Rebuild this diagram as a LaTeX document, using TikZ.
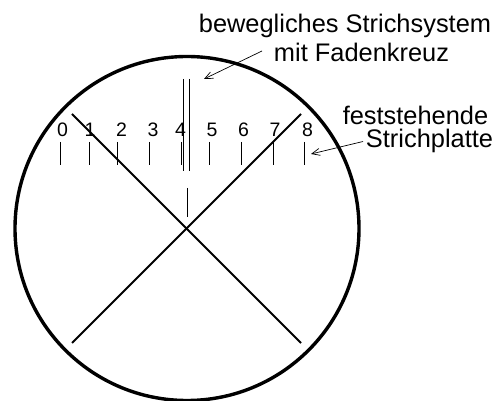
\documentclass[tikz,border=0pt]{standalone}
\usepackage{fontspec}
\setmainfont{Liberation Sans}
\usetikzlibrary{arrows.meta}
\tikzset{
 x=1pt,y=-1pt,
 rim/.style={line width=3.4pt,draw=black},
 cross/.style={line width=2pt,draw=black},
 tick/.style={line width=1pt,draw=black},
 lead/.style={line width=0.7pt,draw=black,-{Straight Barb[length=8pt,width=7pt]}},
 lab/.style={inner sep=0pt,anchor=base,font=\fontsize{25.4}{25}\selectfont,text=black},
 num/.style={inner sep=0pt,anchor=base,font=\fontsize{19.5}{19.5}\selectfont,text=black},
}
\begin{document}
\begin{tikzpicture}
\useasboundingbox (0,0) rectangle (496,401);
\fill[white] (0,0) rectangle (496,401);
\coordinate (c) at (187,228.5);
\draw[rim] (c) circle (172);
\coordinate (a1) at (72,114); \coordinate (a2) at (301,343);
\coordinate (b1) at (301,114); \coordinate (b2) at (72,343);
\draw[cross] (a1) -- (a2);
\draw[cross] (b1) -- (b2);
\foreach \n/\x in {0/60.5,1/89,2/117.5,3/149.5,4/181,5/209.5,6/241,7/273,8/304.5}{
  \coordinate (t\n) at (\x,142); \coordinate (u\n) at (\x,165);
  \draw[tick] (t\n) -- (u\n);
}
\foreach \n/\x in {0/62.5,1/90,2/121.5,3/153,4/180.5,5/212,6/243.5,7/275,8/307.5}{
  \node[num] (n\n) at (\x,137) {\n};
}
\coordinate (s1) at (183.5,79); \coordinate (s2) at (183.5,171);
\coordinate (r1) at (189.5,79); \coordinate (r2) at (189.5,171);
\draw[tick] (s1) -- (s2);
\draw[tick] (r1) -- (r2);
\coordinate (m1) at (187,188); \coordinate (m2) at (187,217);
\draw[tick] (m1) -- (m2);
\node[lab] (t1) at (345,33) {bewegliches Strichsystem};
\node[lab] (t2) at (361.5,62) {mit Fadenkreuz};
\node[lab] (t3) at (415.5,124.5) {feststehende};
\node[lab] (t4) at (429.5,148) {Strichplatte};
\coordinate (la) at (262,51); \coordinate (lb) at (204,79);
\coordinate (lc) at (363,141.5); \coordinate (ld) at (311,154);
\draw[lead] (la) -- (lb);
\draw[lead] (lc) -- (ld);
\end{tikzpicture}
\end{document}
